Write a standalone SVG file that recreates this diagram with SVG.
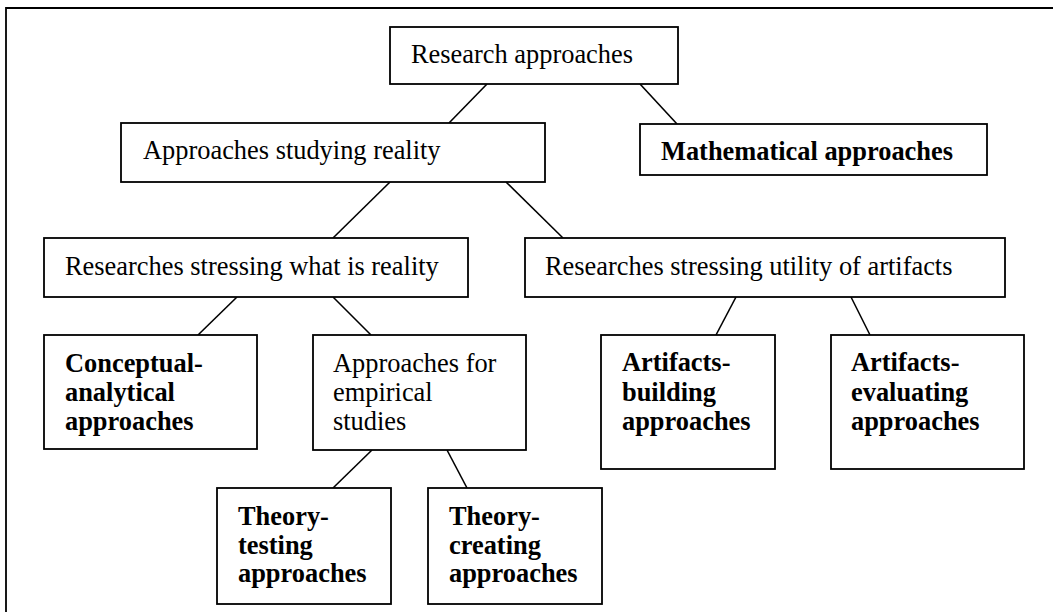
<svg xmlns="http://www.w3.org/2000/svg" width="1053" height="612" viewBox="0 0 1053 612">
<style>
.box{fill:#fff;stroke:#000;stroke-width:1.8}
.t{font-family:"Liberation Serif","Times New Roman",serif;font-size:26.4px;fill:#000}
.b{font-weight:bold}
.c{stroke:#000;stroke-width:1.6;fill:none}
</style>
<rect x="0" y="0" width="1053" height="612" fill="#fff"/>
<path d="M6,620 V8 H1056" fill="none" stroke="#000" stroke-width="1.8"/>
<g id="connectors">
<line class="c" x1="487" y1="84" x2="449" y2="123"/>
<line class="c" x1="640" y1="84" x2="677" y2="124"/>
<line class="c" x1="390" y1="182" x2="333" y2="238"/>
<line class="c" x1="506" y1="182" x2="563" y2="238"/>
<line class="c" x1="237" y1="297" x2="198" y2="335"/>
<line class="c" x1="333" y1="297" x2="371" y2="335"/>
<line class="c" x1="736" y1="297" x2="716" y2="335"/>
<line class="c" x1="851" y1="297" x2="870" y2="335"/>
<line class="c" x1="372" y1="450" x2="333" y2="488"/>
<line class="c" x1="447" y1="450" x2="467" y2="488"/>
</g>
<g id="research">
<rect class="box" x="390" y="27" width="288" height="57"/>
<text class="t" transform="translate(411,63) scale(1,1.07)">Research approaches</text>
</g>
<g id="studying">
<rect class="box" x="121" y="123" width="424" height="59"/>
<text class="t" transform="translate(143,159) scale(1,1.07)">Approaches studying reality</text>
</g>
<g id="math">
<rect class="box" x="640" y="124" width="347" height="51"/>
<text class="t b" transform="translate(661,159.5) scale(1,1.07)">Mathematical approaches</text>
</g>
<g id="what">
<rect class="box" x="44" y="238" width="424" height="59"/>
<text class="t" transform="translate(65,275) scale(1,1.07)">Researches stressing what is reality</text>
</g>
<g id="utility">
<rect class="box" x="525" y="238" width="480" height="59"/>
<text class="t" transform="translate(545,275) scale(1,1.07)">Researches stressing utility of artifacts</text>
</g>
<g id="conceptual">
<rect class="box" x="44" y="335" width="213" height="114"/>
<text class="t b" transform="translate(65,372) scale(1,1.07)"><tspan x="0" y="0">Conceptual-</tspan><tspan x="0" y="27.1">analytical</tspan><tspan x="0" y="54.2">approaches</tspan></text>
</g>
<g id="empirical">
<rect class="box" x="313" y="335" width="213" height="115"/>
<text class="t" transform="translate(333,372) scale(1,1.07)"><tspan x="0" y="0">Approaches for</tspan><tspan x="0" y="27.1">empirical</tspan><tspan x="0" y="54.2">studies</tspan></text>
</g>
<g id="building">
<rect class="box" x="601" y="335" width="174" height="134"/>
<text class="t b" transform="translate(622,371) scale(1,1.07)"><tspan x="0" y="0">Artifacts-</tspan><tspan x="0" y="27.6">building</tspan><tspan x="0" y="54.7">approaches</tspan></text>
</g>
<g id="evaluating">
<rect class="box" x="831" y="335" width="193" height="134"/>
<text class="t b" transform="translate(851,371) scale(1,1.07)"><tspan x="0" y="0">Artifacts-</tspan><tspan x="0" y="27.6">evaluating</tspan><tspan x="0" y="54.7">approaches</tspan></text>
</g>
<g id="testing">
<rect class="box" x="217" y="488" width="174" height="116"/>
<text class="t b" transform="translate(238,525) scale(1,1.07)"><tspan x="0" y="0">Theory-</tspan><tspan x="0" y="27.1">testing</tspan><tspan x="0" y="53.3">approaches</tspan></text>
</g>
<g id="creating">
<rect class="box" x="428" y="488" width="174" height="116"/>
<text class="t b" transform="translate(449,525) scale(1,1.07)"><tspan x="0" y="0">Theory-</tspan><tspan x="0" y="27.1">creating</tspan><tspan x="0" y="53.3">approaches</tspan></text>
</g>
</svg>
